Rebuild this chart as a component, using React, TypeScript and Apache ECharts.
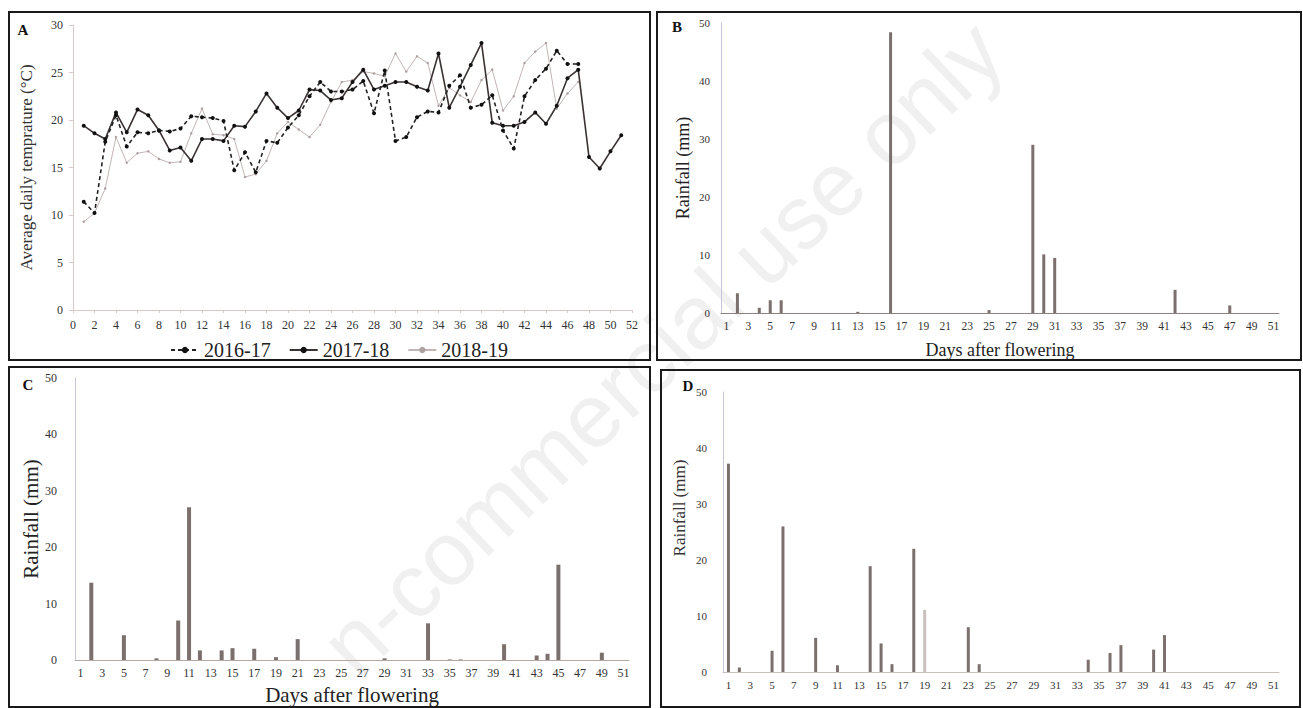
import React, { useEffect, useRef } from "react";
import * as echarts from "echarts";

const FONT = "'Liberation Serif', 'Times New Roman', serif";

// Panel A: average daily temperature (°C) by day after flowering
const seasonNames = ["2016-17", "2017-18", "2018-19"];
const temp2016_17 = [
  11.4, 10.2, 17.7, 20.5, 17.2, 18.7, 18.6, 18.9, 18.8, 19.1,
  20.4, 20.3, 20.2, 19.9, 14.7, 16.6, 14.5, 17.8, 17.6, 19.2,
  20.5, 22.5, 24.0, 23.0, 23.0, 23.2, 24.1, 20.7, 25.2, 17.8,
  18.2, 20.3, 20.9, 20.8, 23.6, 24.7, 21.3, 21.6, 22.6, 18.9,
  17.0, 22.5, 24.2, 25.4, 27.3, 25.9, 25.9,
];
const temp2017_18 = [
  19.4, 18.6, 18.0, 20.8, 18.7, 21.1, 20.5, 18.9, 16.8, 17.1,
  15.7, 18.0, 18.0, 17.8, 19.4, 19.3, 20.9, 22.8, 21.3, 20.2,
  21.0, 23.2, 23.1, 22.1, 22.3, 24.0, 25.3, 23.2, 23.6, 24.0,
  24.0, 23.5, 23.1, 27.0, 21.3, 23.5, 25.8, 28.1, 19.7, 19.4,
  19.4, 19.8, 20.8, 19.6, 21.5, 24.4, 25.3, 16.1, 14.9, 16.7,
  18.4,
];
const temp2018_19 = [
  9.3, 10.2, 12.8, 18.2, 15.5, 16.5, 16.7, 15.9, 15.5, 15.6,
  18.6, 21.2, 18.5, 18.4, 18.0, 14.0, 14.3, 15.7, 18.6, 19.8,
  19.0, 18.2, 19.5, 21.9, 24.0, 24.2, 25.1, 24.9, 24.6, 27.0,
  25.1, 26.7, 26.0, 21.5, 23.4, 22.6, 21.9, 24.2, 25.3, 21.0,
  22.5, 26.0, 27.2, 28.1, 21.2, 22.8, 24.0,
];

// Panels B, C, D: daily rainfall (mm), days 1..51
const rainDays = Array.from({ length: 51 }, (_, i) => String(i + 1));
const rainB = [
  0, 3.4, 0, 0.9, 2.2, 2.2, 0, 0, 0, 0,
  0, 0, 0.2, 0, 0, 48.4, 0, 0, 0, 0,
  0, 0, 0, 0, 0.5, 0, 0, 0, 29.0, 10.1,
  9.5, 0, 0, 0, 0, 0, 0, 0, 0, 0,
  0, 4.0, 0, 0, 0, 0, 1.3, 0, 0, 0,
  0,
];
const rainC = [
  0, 13.7, 0, 0, 4.4, 0, 0, 0.3, 0, 7.0,
  27.1, 1.7, 0, 1.7, 2.1, 0, 2.0, 0, 0.5, 0,
  3.7, 0, 0, 0, 0, 0, 0, 0, 0.3, 0,
  0, 0, 6.5, 0, 0.1, 0.1, 0, 0, 0, 2.8,
  0, 0, 0.8, 1.1, 16.9, 0, 0, 0, 1.3, 0,
  0,
];
const rainD = [
  37.2, 0.8, 0, 0, 3.8, 26.0, 0, 0, 6.1, 0,
  1.2, 0, 0, 18.9, 5.1, 1.4, 0, 22.0, 11.1, 0,
  0, 0, 8.0, 1.4, 0, 0, 0, 0, 0, 0,
  0, 0, 0, 2.2, 0, 3.4, 4.8, 0, 0, 4.0,
  6.6, 0, 0, 0, 0, 0, 0, 0, 0, 0,
  0,
];
const faintBarIndexD = 18;

const pairs = (arr: number[]) => arr.map((v, i) => [i + 1, v]);

export default function App() {
  const ref = useRef<HTMLDivElement>(null);
  useEffect(() => {
    if (!ref.current) return;
    const chart = echarts.init(ref.current, undefined, { renderer: "svg" });
    const txt = { fontFamily: FONT, color: "#333" };
    const barColor = "#7b706d";

    const rainX = (grid: number, fs: number, nameFs: number, gap: number, withName: boolean, lineColor: string) => ({
      type: "category",
      gridIndex: grid,
      data: rainDays,
      boundaryGap: true,
      axisLine: { show: true, lineStyle: { color: lineColor, width: 1 } },
      axisTick: { show: false },
      axisLabel: { interval: 1, fontSize: fs, margin: 7, ...txt },
      splitLine: { show: false },
      name: withName ? "Days after flowering" : "",
      nameLocation: "middle",
      nameGap: gap,
      nameTextStyle: { fontSize: nameFs, fontFamily: FONT, color: "#222" },
    });
    const rainY = (grid: number, fs: number, name: string, nameFs: number, gap: number, margin: number) => ({
      type: "value",
      gridIndex: grid,
      min: 0,
      max: 50,
      interval: 10,
      axisLine: { show: true, lineStyle: { color: "#c6c4da", width: 1 } },
      axisTick: { show: false },
      axisLabel: { fontSize: fs, margin, ...txt },
      splitLine: { show: false },
      name,
      nameLocation: "middle",
      nameGap: gap,
      nameTextStyle: { fontSize: nameFs, fontFamily: FONT, color: "#222" },
    });

    const border = (x1: number, y1: number, x2: number, y2: number) => ({
      type: "rect",
      shape: { x: x1, y: y1, width: x2 - x1, height: y2 - y1 },
      style: { fill: "none", stroke: "#1a1a1a", lineWidth: 2 },
      z: 10,
    });
    const panelLabel = (t: string, x: number, y: number) => ({
      type: "text",
      x,
      y,
      style: { text: t, font: `bold 15px ${FONT}`, fill: "#111", align: "center", verticalAlign: "middle" },
      z: 10,
    });

    chart.setOption({
      animation: false,
      backgroundColor: "#ffffff",
      grid: [
        { left: 73, top: 25, width: 559, height: 285 },
        { left: 721, top: 23, width: 558, height: 290 },
        { left: 75, top: 378, width: 554, height: 282 },
        { left: 723, top: 392, width: 556, height: 280 },
      ],
      legend: {
        left: 165,
        top: 335,
        itemGap: 18,
        itemWidth: 28,
        itemHeight: 8,
        data: seasonNames,
        textStyle: { fontSize: 20, fontFamily: FONT, color: "#222" },
      },
      xAxis: [
        {
          type: "value",
          gridIndex: 0,
          min: 0,
          max: 52,
          interval: 2,
          axisLine: { show: true, lineStyle: { color: "#dcc9c6" } },
          axisTick: { show: true, length: 3, lineStyle: { color: "#dcc9c6" } },
          axisLabel: { fontSize: 12, margin: 9, ...txt },
          splitLine: { show: false },
        },
        rainX(1, 11.5, 18, 28, true, "#8d807d"),
        rainX(2, 12, 21, 24, true, "#b8a8a5"),
        rainX(3, 11, 14, 30, false, "#c8bebc"),
      ],
      yAxis: [
        {
          type: "value",
          gridIndex: 0,
          min: 0,
          max: 30,
          interval: 5,
          axisLine: { show: true, lineStyle: { color: "#dcc9c6" } },
          axisTick: { show: true, length: 4, lineStyle: { color: "#dcc9c6" } },
          axisLabel: { fontSize: 12, margin: 10, ...txt },
          splitLine: { show: false },
          name: "Average daily temprature (°C)",
          nameLocation: "middle",
          nameGap: 38,
          nameTextStyle: { fontSize: 17, fontFamily: FONT, color: "#333" },
        },
        rainY(1, 11, "Rainfall (mm)", 18, 29, 11),
        rainY(2, 12, "Rainfall (mm)", 21, 30, 18),
        rainY(3, 11, "", 14, 40, 16),
      ],
      series: [
        {
          name: seasonNames[0],
          type: "line",
          xAxisIndex: 0,
          yAxisIndex: 0,
          data: pairs(temp2016_17),
          symbol: "circle",
          symbolSize: 4,
          lineStyle: { color: "#222", width: 1.6, type: [4, 3] },
          itemStyle: { color: "#111" },
          z: 4,
        },
        {
          name: seasonNames[1],
          type: "line",
          xAxisIndex: 0,
          yAxisIndex: 0,
          data: pairs(temp2017_18),
          symbol: "circle",
          symbolSize: 4,
          lineStyle: { color: "#3a3332", width: 1.6 },
          itemStyle: { color: "#111" },
          z: 3,
        },
        {
          name: seasonNames[2],
          type: "line",
          xAxisIndex: 0,
          yAxisIndex: 0,
          data: pairs(temp2018_19),
          symbol: "circle",
          symbolSize: 2.5,
          lineStyle: { color: "#c2b6b4", width: 1 },
          itemStyle: { color: "#aea2a0" },
          z: 2,
        },
        {
          type: "bar",
          xAxisIndex: 1,
          yAxisIndex: 1,
          data: rainB,
          barWidth: 3,
          itemStyle: { color: barColor },
        },
        {
          type: "bar",
          xAxisIndex: 2,
          yAxisIndex: 2,
          data: rainC,
          barWidth: 4,
          itemStyle: { color: barColor },
        },
        {
          type: "bar",
          xAxisIndex: 3,
          yAxisIndex: 3,
          data: rainD,
          barWidth: 3,
          itemStyle: {
            color: (p: any) => (p.dataIndex === faintBarIndexD ? "#c9c0be" : barColor),
          },
        },
      ],
      graphic: [
        {
          type: "text",
          x: 662,
          y: 348,
          rotation: (43.6 * Math.PI) / 180,
          silent: true,
          style: {
            text: "n-commercial use only",
            font: "90px 'Liberation Sans', Arial, sans-serif",
            fill: "#f0f0f0",
            align: "center",
            verticalAlign: "middle",
          },
          z: -10,
        },
        border(9, 12, 650, 360),
        border(657, 12, 1301, 360),
        border(9, 367, 650, 707),
        border(661, 370, 1300, 707),
        panelLabel("A", 23, 30),
        panelLabel("B", 677, 27),
        panelLabel("C", 28, 385),
        panelLabel("D", 688, 386),
        {
          type: "text",
          x: 679,
          y: 508,
          rotation: Math.PI / 2,
          style: {
            text: "Rainfall (mm)",
            font: `17px ${FONT}`,
            fill: "#333",
            align: "center",
            verticalAlign: "middle",
          },
          z: 10,
        },
      ],
    });
    return () => chart.dispose();
  }, []);
  return (
    <div
      ref={ref}
      style={{ position: "fixed", left: 0, top: 0, width: 1303, height: 708, background: "#fff" }}
    />
  );
}
